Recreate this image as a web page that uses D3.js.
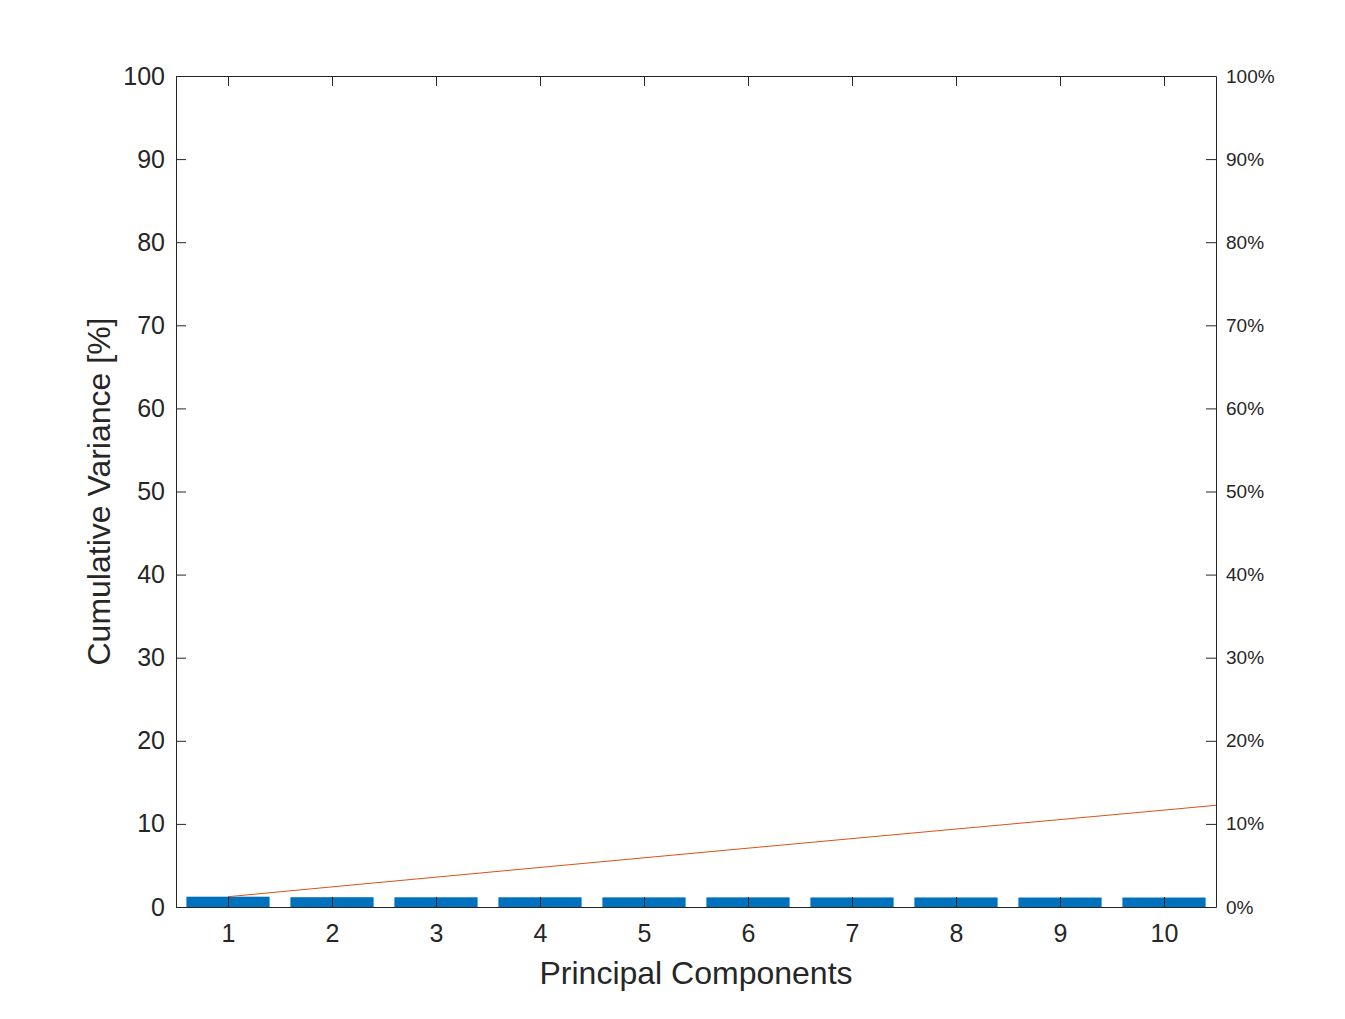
<!DOCTYPE html>
<html>
<head>
<meta charset="utf-8">
<script src="https://cdn.jsdelivr.net/npm/d3@7"></script>
<style>
  html, body { margin: 0; padding: 0; background: #fff; overflow: hidden; }
  svg { display: block; }
  svg text { font-family: "Liberation Sans", Arial, Helvetica, sans-serif; fill: #262626; }
</style>
</head>
<body>
<div id="chart"></div>
<script>
// Pareto chart of explained variance per principal component
const components = [1, 2, 3, 4, 5, 6, 7, 8, 9, 10];
const variance = [1.24, 1.18, 1.17, 1.17, 1.16, 1.16, 1.15, 1.15, 1.14, 1.14];
// cumulative line runs one step further (clipped at the axis edge)
const extraVariance = [1.16];
const leftTicks = [0, 10, 20, 30, 40, 50, 60, 70, 80, 90, 100];
const rightTicks = [0, 10, 20, 30, 40, 50, 60, 70, 80, 90, 100];

const width = 1345, height = 1019;
const margin = { top: 76, right: 129, bottom: 112, left: 176 };
const innerWidth = width - margin.left - margin.right;
const innerHeight = height - margin.top - margin.bottom;
const ink = "#262626";

const svg = d3.select("#chart").append("svg")
  .attr("width", width).attr("height", height);

const plot = svg.append("g")
  .attr("transform", `translate(${margin.left},${margin.top})`);

const x = d3.scaleLinear().domain([0.5, 10.5]).range([0, innerWidth]);
const y = d3.scaleLinear().domain([0, 100]).range([innerHeight, 0]);
const yRight = d3.scaleLinear().domain([0, 100]).range([innerHeight, 0]);

svg.append("defs").append("clipPath").attr("id", "plot-clip")
  .append("rect").attr("width", innerWidth).attr("height", innerHeight);

// bars
const barW = x(1.4) - x(0.6);
plot.append("g").selectAll("rect")
  .data(components)
  .join("rect")
  .attr("x", (d) => x(d) - barW / 2)
  .attr("y", (d, i) => y(variance[i]))
  .attr("width", barW)
  .attr("height", (d, i) => y(0) - y(variance[i]))
  .attr("fill", "#0072BD");

// cumulative line
const allVals = variance.concat(extraVariance);
const cumulative = d3.cumsum(allVals);
const linePts = Array.from(cumulative, (c, i) => [i + 1, c]);
plot.append("path")
  .datum(linePts)
  .attr("clip-path", "url(#plot-clip)")
  .attr("fill", "none")
  .attr("stroke", "#D95319")
  .attr("stroke-width", 1)
  .attr("d", d3.line().x((d) => x(d[0])).y((d) => y(d[1])));

// axes (MATLAB style: ticks inward)
const tickLen = 10;
const styleAxis = (g) => {
  g.select(".domain").attr("stroke", ink).attr("stroke-width", 1);
  g.selectAll(".tick line").attr("stroke", ink);
};

const xBottom = plot.append("g")
  .attr("transform", `translate(0,${innerHeight})`)
  .call(d3.axisBottom(x).tickValues(components).tickSizeInner(-tickLen).tickSizeOuter(0).tickPadding(17))
  .call(styleAxis);
xBottom.selectAll(".tick text").attr("font-size", 25).attr("fill", ink);

plot.append("g")
  .call(d3.axisTop(x).tickValues(components).tickSizeInner(-tickLen).tickSizeOuter(0).tickFormat(""))
  .call(styleAxis);

const yLeft = plot.append("g")
  .call(d3.axisLeft(y).tickValues(leftTicks).tickSizeInner(-tickLen).tickSizeOuter(0).tickPadding(11))
  .call(styleAxis);
yLeft.selectAll(".tick text").attr("font-size", 25).attr("fill", ink);

const yRightG = plot.append("g")
  .attr("transform", `translate(${innerWidth},0)`)
  .call(d3.axisRight(yRight).tickValues(rightTicks).tickSizeInner(-tickLen).tickSizeOuter(0)
    .tickPadding(10).tickFormat((d) => d + "%"))
  .call(styleAxis);
yRightG.selectAll(".tick text").attr("font-size", 19).attr("fill", ink);

// axis labels
svg.append("text")
  .attr("x", margin.left + innerWidth / 2)
  .attr("y", 984)
  .attr("text-anchor", "middle")
  .attr("font-size", 32)
  .text("Principal Components");

svg.append("text")
  .attr("transform", `translate(110,${margin.top + innerHeight / 2}) rotate(-90)`)
  .attr("text-anchor", "middle")
  .attr("font-size", 32)
  .text("Cumulative Variance [%]");
</script>
</body>
</html>
